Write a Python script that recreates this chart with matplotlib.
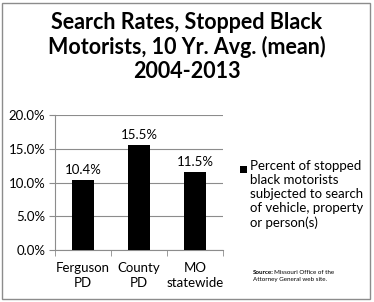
import matplotlib
matplotlib.use("Agg")
import matplotlib.pyplot as plt
import numpy as np
from matplotlib.patches import Rectangle
from matplotlib.ticker import PercentFormatter

categories = ["Ferguson\nPD", "County\nPD", "MO\nstatewide"]
rates = [10.4, 15.5, 11.5]
yticks = [0, 5, 10, 15, 20]
legend_label = "Percent of stopped\nblack motorists\nsubjected to search\nof vehicle, property\nor person(s)"

plt.rcParams["font.family"] = ["Lato", "DejaVu Sans"]

W, H = 374, 302
fig = plt.figure(figsize=(W / 100, H / 100), dpi=100)
fig.patch.set_facecolor("white")
fig.add_artist(Rectangle((2 / W, 3 / H), 368 / W, 296 / H, transform=fig.transFigure,
                         fill=False, edgecolor="#8c8c8c", linewidth=1))

fig.text(187 / W, 1 - 47 / H, "Search Rates, Stopped Black\nMotorists, 10 Yr. Avg. (mean)\n2004-2013",
         ha="center", va="center", fontsize=15.5, fontweight="bold", linespacing=1.15)

ax = fig.add_axes([55 / W, 1 - 250 / H, 168 / W, 135 / H])
x = np.arange(len(categories))
ax.bar(x, rates, width=0.4, color="black", zorder=3)
for xi, v in zip(x, rates):
    ax.text(xi, v + 0.6, f"{v:.1f}%", ha="center", va="bottom", fontsize=9.5)

ax.set_xlim(-0.5, len(categories) - 0.5)
ax.set_ylim(0, 20)
ax.set_yticks(yticks)
ax.yaxis.set_major_formatter(PercentFormatter(decimals=1))
ax.grid(axis="y", color="#8c8c8c", linewidth=0.8, zorder=0)
ax.set_xticks(x)
ax.set_xticklabels(categories, fontsize=9.5, linespacing=1.25)
ax.set_xticks(np.arange(len(categories) + 1) - 0.5, minor=True)
ax.tick_params(axis="x", which="major", length=0, pad=9)
ax.tick_params(axis="x", which="minor", length=4, color="#8c8c8c")
ax.tick_params(axis="y", length=4, color="#8c8c8c", labelsize=9.5, pad=3)
for s in ["top", "right"]:
    ax.spines[s].set_visible(False)
ax.spines["left"].set_color("#8c8c8c")
ax.spines["bottom"].set_color("#8c8c8c")

fig.add_artist(Rectangle((240 / W, 1 - 173 / H), 7 / W, 7 / H, transform=fig.transFigure,
                         facecolor="black", edgecolor="none"))
fig.text(250 / W, 1 - 160 / H, legend_label, ha="left", va="top", fontsize=9.5, linespacing=1.2)

fig.text(253 / W, 1 - 272 / H, "Source:", ha="left", va="center", fontsize=4.5, fontweight="bold")
fig.text(274 / W, 1 - 272 / H, "Missouri Office of the", ha="left", va="center", fontsize=4.5)
fig.text(253 / W, 1 - 280 / H, "Attorney General web site.", ha="left", va="center", fontsize=4.5)

fig.savefig("out.png", dpi=100)
